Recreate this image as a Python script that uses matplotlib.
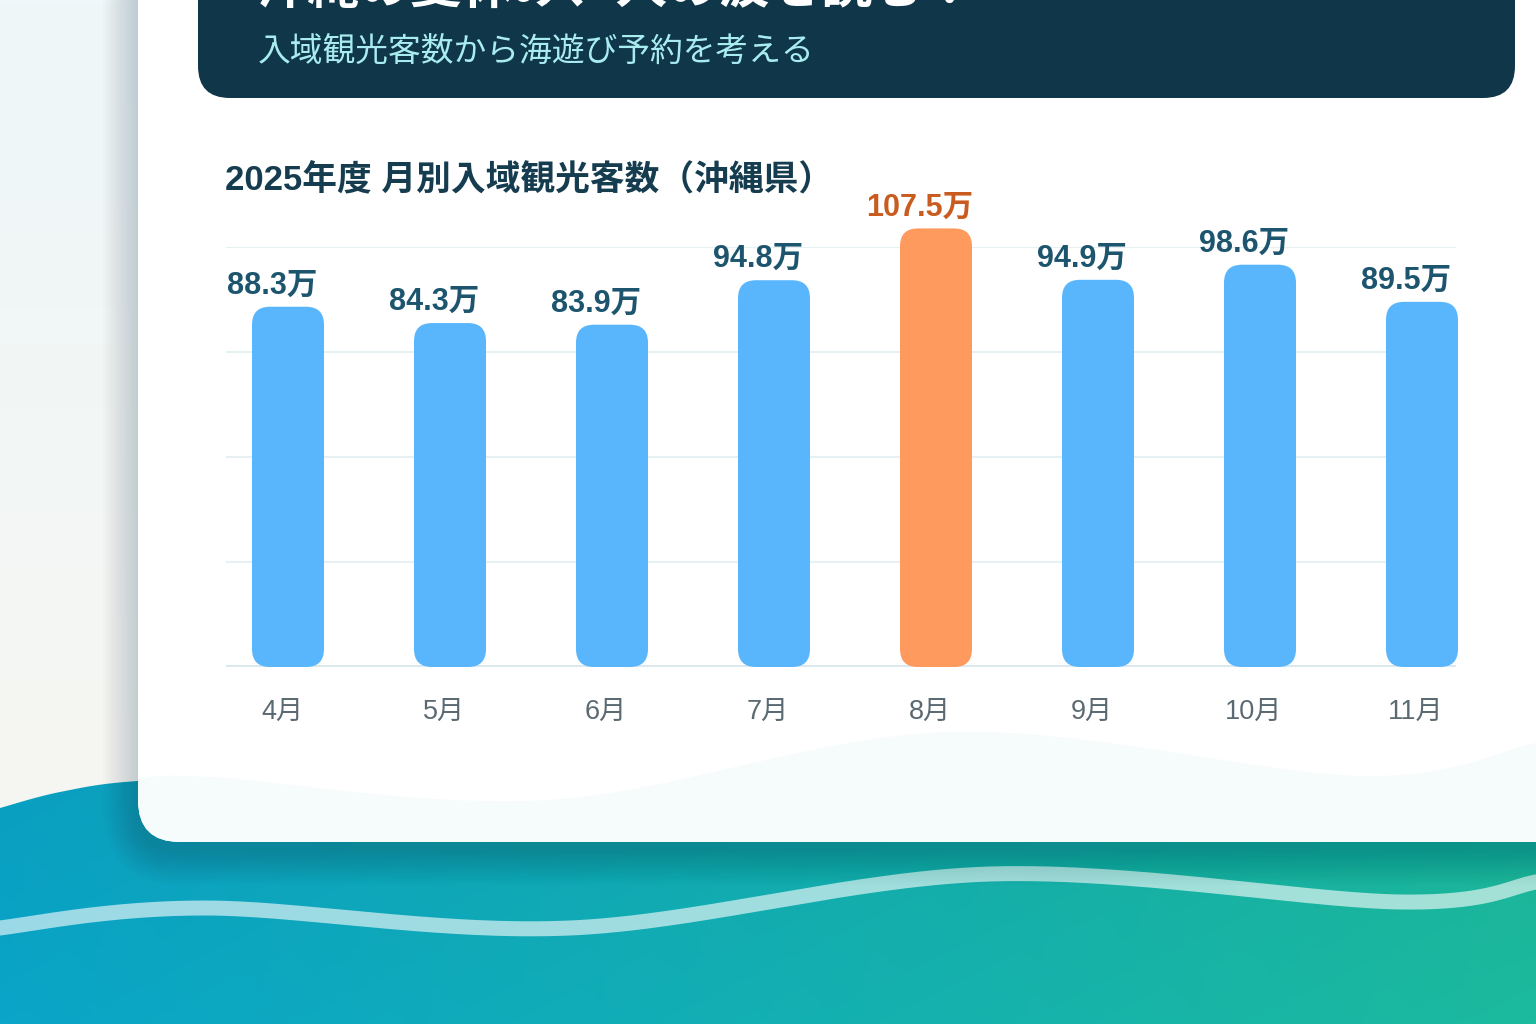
import numpy as np
import matplotlib
matplotlib.use("Agg")
import matplotlib.pyplot as plt
from matplotlib.patches import FancyBboxPatch, Polygon

plt.rcParams['font.family'] = ['Noto Sans CJK JP', 'DejaVu Sans']
latin_first = ['Liberation Sans', 'Noto Sans CJK JP']

# data
months = ["4月", "5月", "6月", "7月", "8月", "9月", "10月", "11月"]
visitors = [88.3, 84.3, 83.9, 94.8, 107.5, 94.9, 98.6, 89.5]  # 万人
peak_month = "8月"

title_top = "沖縄の夏休み、人の波を読む！"
subtitle = "入域観光客数から海遊び予約を考える"
chart_title = "2025年度 月別入域観光客数（沖縄県）"

W, H = 1536, 1024
blue = "#59b6fd"
orange = "#ff9a5e"
navy = "#0f3649"
label_col = "#1d556e"
peak_label_col = "#c95b1f"
month_col = "#5b6a72"


def smooth(pts, n=60):
    """Catmull-Rom curve through the given points (decoration only)."""
    pts = np.array(pts, float)
    p = np.vstack([pts[0], pts, pts[-1]])
    t = np.linspace(0, 1, n)[:, None]
    out = []
    for i in range(1, len(p) - 2):
        p0, p1, p2, p3 = p[i - 1], p[i], p[i + 1], p[i + 2]
        out.append(0.5 * (2 * p1 + (-p0 + p2) * t
                          + (2 * p0 - 5 * p1 + 4 * p2 - p3) * t ** 2
                          + (-p0 + 3 * p1 - 3 * p2 + p3) * t ** 3))
    return np.vstack(out)


fig = plt.figure(figsize=(W / 100, H / 100), dpi=100)

# ---- background layer in pixel coordinates ----
bg = fig.add_axes([0, 0, 1, 1])
bg.set_xlim(0, W)
bg.set_ylim(H, 0)
bg.axis("off")

# soft page gradient
top_c = np.array([238, 247, 249]) / 255
bot_c = np.array([248, 246, 240]) / 255
g = np.linspace(0, 1, 256)[:, None, None]
page = top_c * (1 - g) + bot_c * g
bg.imshow(np.repeat(page, 2, axis=1), extent=[0, W, H, 0], aspect="auto", zorder=0)

# sea
left_c = np.array([10, 165, 200]) / 255
right_c = np.array([28, 186, 158]) / 255
gx = np.linspace(0, 1, 256)[None, :, None]
gy = np.linspace(0, 1, 64)[:, None, None]
sea = left_c * (1 - gx) + right_c * gx
sea = sea * (0.96 + 0.04 * gy)
sea_top = smooth([(0, 808), (60, 792), (138, 781), (300, 776), (W, 776)], n=30)
sea_poly = np.vstack([sea_top, [(W, H), (0, H)]])
sea_patch = Polygon(sea_poly, closed=True, facecolor="none", edgecolor="none")
bg.add_patch(sea_patch)
im = bg.imshow(sea, extent=[0, W, H, 770], aspect="auto", zorder=1)
im.set_clip_path(sea_patch)

# light wave stroke in the sea
wave = smooth([(-20, 936), (0, 928), (205, 908), (570, 928), (990, 874),
               (1400, 902), (W, 882), (W + 20, 876)])
bg.plot(wave[:, 0], wave[:, 1], color="white", alpha=0.6, lw=10.8,
        solid_capstyle="round", zorder=2)

# card shadow
for k in range(16):
    e = 2 + k * 2.2
    sh = FancyBboxPatch((138 - e, -100 - e), 1460 + 2 * e, 942 + 2 * e + 8,
                        boxstyle="round,pad=0,rounding_size=%f" % (42 + e),
                        facecolor="#0b3440", edgecolor="none", alpha=0.011, zorder=3)
    bg.add_patch(sh)

# card
card = FancyBboxPatch((138, -100), 1460, 942, boxstyle="round,pad=0,rounding_size=42",
                      facecolor="white", edgecolor="none", zorder=4)
bg.add_patch(card)

# faint wave inside the bottom of the card
inner = smooth([(120, 780), (138, 779), (210, 777), (550, 800), (950, 732),
                (1360, 776), (W, 743), (W + 40, 735)])
inner_poly = np.vstack([inner, [(W + 40, 860), (120, 860)]])
iw = Polygon(inner_poly, closed=True, facecolor="#f6fbfc", edgecolor="none", zorder=5)
bg.add_patch(iw)
iw.set_clip_path(card)

# header band
header = FancyBboxPatch((198, -100), 1317, 198, boxstyle="round,pad=0,rounding_size=32",
                        facecolor=navy, edgecolor="none", zorder=6)
bg.add_patch(header)
bg.text(256, 14, title_top, color="white", fontsize=37, fontweight="bold",
        va="bottom", ha="left", zorder=7)
bg.text(258, 52, subtitle, color="#a9ecf0", fontsize=23.6, va="center", ha="left", zorder=7)

bg.text(225, 181, chart_title, color="#163c4f", fontsize=25, fontweight="bold",
        family=latin_first, va="center", ha="left", zorder=7)

# ---- chart ----
x0_px, x1_px = 226, 1456
base_px, top_px = 667, 247
bar_step = 162
first_px = 288
px_per_unit = 4.08

ax = fig.add_axes([x0_px / W, 1 - base_px / H, (x1_px - x0_px) / W, (base_px - top_px) / H])
ax.patch.set_alpha(0)
xmin = (x0_px - first_px) / bar_step
xmax = (x1_px - first_px) / bar_step
ymax = (base_px - top_px) / px_per_unit
ax.set_xlim(xmin, xmax)
ax.set_ylim(0, ymax)
for s in ax.spines.values():
    s.set_visible(False)
ax.set_yticks(np.linspace(0, ymax, 5))
ax.set_xticks([])
ax.tick_params(left=False, labelleft=False)
ax.grid(axis="y", color="#e7f0f2", lw=1.5)
ax.set_axisbelow(True)
ax.axhline(0, color="#dbe8ed", lw=2.9, zorder=1)

xs = np.arange(len(months))
colors = [orange if m == peak_month else blue for m in months]
bars = ax.bar(xs, visitors, width=72 / bar_step, color=colors)

aspect = (1 / px_per_unit) / (1 / bar_step)
radius = 18 / bar_step
for b in list(bars):
    rb = FancyBboxPatch((b.get_x(), b.get_y()), b.get_width(), b.get_height(),
                        boxstyle="round,pad=0,rounding_size=%f" % radius,
                        mutation_aspect=aspect, facecolor=b.get_facecolor(),
                        edgecolor="none", clip_on=False, zorder=3)
    ax.add_patch(rb)
    b.remove()

for i, (m, v) in enumerate(zip(months, visitors)):
    peak = m == peak_month
    ax.annotate(f"{v:.1f}万", xy=(i, v), xytext=(-11.5, 9.4), textcoords="offset points",
                ha="center", va="baseline", fontsize=22, fontweight="bold",
                family=latin_first,
                color=peak_label_col if peak else label_col, annotation_clip=False)
    ax.annotate(m, xy=(i, 0), xytext=(-4.3, -37.4), textcoords="offset points",
                ha="center", va="baseline", fontsize=19.5, color=month_col,
                family=latin_first, annotation_clip=False)

fig.savefig("out.png", dpi=100)
